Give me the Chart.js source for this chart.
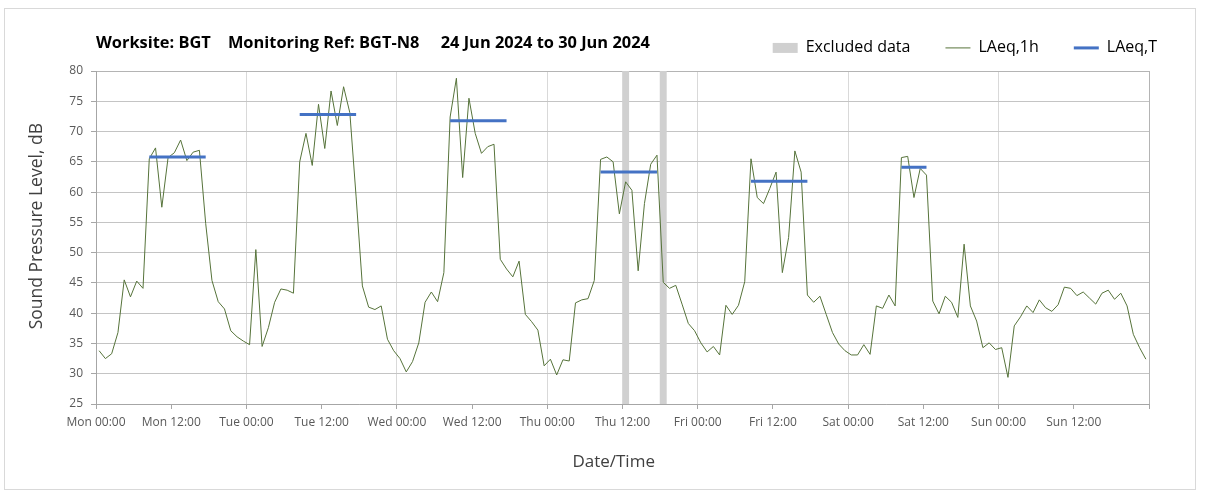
<!DOCTYPE html>
<html>
<head>
<meta charset="utf-8">
<script src="https://cdn.jsdelivr.net/npm/chart.js@4.4.1/dist/chart.umd.min.js"></script>
<style>
  html, body { margin: 0; padding: 0; background: #ffffff; }
  #wrap { position: relative; width: 1208px; height: 496px; }
  #frame { position: absolute; left: 4px; top: 8px; width: 1190px; height: 480px; border: 1px solid #d9d9d9; pointer-events: none; }
  canvas { position: absolute; left: 0; top: 0; }
</style>
</head>
<body>
<div id="wrap">
  <canvas id="c" width="1208" height="496"></canvas>
  <div id="frame"></div>
</div>
<script>
// ---- Data (hourly LAeq,1h, Mon 00:00 -> Sun 23:00) ----
const chartTitle = 'Worksite: BGT    Monitoring Ref: BGT-N8     24 Jun 2024 to 30 Jun 2024';
const xTickLabels = ['Mon 00:00','Mon 12:00','Tue 00:00','Tue 12:00','Wed 00:00','Wed 12:00',
  'Thu 00:00','Thu 12:00','Fri 00:00','Fri 12:00','Sat 00:00','Sat 12:00','Sun 00:00','Sun 12:00',''];

const laeq1hMon = [33.8,32.5,33.3,36.8,45.5,42.7,45.3,44.1,65.5,67.3,57.5,65.7,66.5,68.6,65.2,66.6,66.9,54.8,45.4,41.9,40.7,37.1,36.1,35.4];
const laeq1hTue = [34.8,50.5,34.5,37.6,41.8,44.0,43.8,43.3,65.0,69.7,64.4,74.5,67.2,76.7,71.0,77.4,73.1,59.2,44.5,41.0,40.6,41.2,35.7,33.8];
const laeq1hWed = [32.5,30.3,32.0,35.1,41.8,43.5,41.9,46.7,72.4,78.8,62.4,75.5,69.7,66.4,67.5,67.9,48.9,47.3,46.0,48.6,39.8,38.6,37.2,31.3];
const laeq1hThu = [32.4,29.8,32.3,32.1,41.7,42.2,42.4,45.4,65.4,65.8,65.0,56.4,61.7,60.3,47.0,58.1,64.6,66.1,45.1,44.1,44.6,41.5,38.3,37.1];
const laeq1hFri = [35.1,33.6,34.5,33.1,41.3,39.8,41.3,45.2,65.5,59.1,58.1,60.6,63.3,46.7,52.5,66.8,63.3,43.0,41.8,42.8,39.8,36.8,34.9,33.8];
const laeq1hSat = [33.1,33.1,34.8,33.2,41.2,40.8,43.0,41.2,65.7,65.9,59.1,63.9,62.8,42.0,39.9,42.8,41.8,39.3,51.4,41.2,38.7,34.3,35.1,34.0];
const laeq1hSun = [34.3,29.4,37.9,39.4,41.2,40.1,42.2,40.9,40.3,41.4,44.3,44.1,42.9,43.5,42.5,41.5,43.3,43.8,42.3,43.3,41.2,36.5,34.3,32.4];

// LAeq,T daytime periods (start hour, end hour, level)
const laeqTStart = [8, 32, 56, 80, 104, 128];
const laeqTEnd   = [17, 41, 65, 89, 113, 132];
const laeqTValue = [65.8, 72.8, 71.8, 63.3, 61.8, 64.1];

// Excluded data hours
const excludedHours = [84, 90];

// ---- Build datasets ----
const laeq1h = [].concat(laeq1hMon, laeq1hTue, laeq1hWed, laeq1hThu, laeq1hFri, laeq1hSat, laeq1hSun);
const hours = laeq1h.map((_, i) => i);
const lineData = hours.map(h => ({ x: h + 0.5, y: laeq1h[h] }));
const laeqTData = hours.map(h => {
  let v = null;
  laeqTStart.forEach((s, k) => { if (h >= s && h <= laeqTEnd[k]) v = laeqTValue[k]; });
  return { x: h + 0.5, y: v };
});
const excludedData = hours.map(h => ({ x: h + 0.5, y: excludedHours.includes(h) ? 80 : null }));

const FONT = "'Open Sans', 'DejaVu Sans', sans-serif";

new Chart(document.getElementById('c'), {
  type: 'line',
  data: {
    datasets: [
      { type: 'line', label: 'LAeq,T', data: laeqTData, borderColor: '#4472c4', borderWidth: 3,
        pointRadius: 0, spanGaps: false, order: 1 },
      { type: 'line', label: 'LAeq,1h', data: lineData, borderColor: '#56733a', borderWidth: 1,
        pointRadius: 0, tension: 0, order: 2 },
      { type: 'bar', label: 'Excluded data', data: excludedData, backgroundColor: '#d0d0d0',
        borderWidth: 0, barPercentage: 1, categoryPercentage: 1, order: 3 }
    ]
  },
  options: {
    responsive: false,
    animation: false,
    events: [],
    layout: { padding: { left: 0, right: 16, top: 0, bottom: 0 } },
    plugins: {
      tooltip: { enabled: false },
      title: {
        display: true, text: chartTitle, align: 'start', color: '#000000', fullSize: false, weight: 2000,
        font: { family: FONT, size: 16.4, weight: 'bold', lineHeight: 1.2 },
        padding: { top: -32.8, bottom: 18.2 }
      },
      legend: {
        display: true, position: 'top', align: 'end', weight: 3000,
        labels: {
          usePointStyle: true, pointStyleWidth: 25, boxHeight: 10, padding: 35,
          color: '#404040', font: { family: FONT, size: 16 },
          generateLabels: () => [
            { text: 'Excluded data', pointStyle: 'rect', fillStyle: '#d0d0d0', strokeStyle: '#d0d0d0', lineWidth: 0, hidden: false, datasetIndex: 2 },
            { text: 'LAeq,1h', pointStyle: 'line', fillStyle: '#56733a', strokeStyle: '#56733a', lineWidth: 1, hidden: false, datasetIndex: 1 },
            { text: 'LAeq,T', pointStyle: 'line', fillStyle: '#4472c4', strokeStyle: '#4472c4', lineWidth: 3, hidden: false, datasetIndex: 0 }
          ]
        }
      }
    },
    scales: {
      x: {
        type: 'linear', min: 0, max: 168, offset: false, bounds: 'ticks',
        afterFit: s => { s.height = 92; s.paddingRight = 59; },
        ticks: { stepSize: 12, autoSkip: false, maxRotation: 0, minRotation: 0, padding: 6,
          color: '#595959', font: { family: FONT, size: 12 },
          callback: v => xTickLabels[Math.round(v / 12)] },
        grid: { offset: false, drawTicks: true, tickLength: 5, tickColor: '#a6a6a6', lineWidth: 1,
          color: c => (c.tick && c.tick.value === 168) ? '#b4b4b4' : ((c.tick && c.tick.value % 24 === 0) ? '#d9d9d9' : 'rgba(0,0,0,0)') },
        border: { display: true, color: '#a6a6a6', width: 1 },
        title: { display: true, text: 'Date/Time    ', color: '#404040',
          font: { family: FONT, size: 17, lineHeight: 1.2 }, padding: { top: 4, bottom: 23.8 } }
      },
      y: {
        type: 'linear', min: 25, max: 80, beginAtZero: false,
        afterFit: s => { s.width = 96; s.paddingTop = 71; },
        ticks: { stepSize: 5, padding: 8, color: '#595959', font: { family: FONT, size: 12 } },
        grid: { drawTicks: true, tickLength: 5, tickColor: '#a6a6a6', lineWidth: 1,
          color: c => (c.tick && c.tick.value === 80) ? '#b4b4b4' : '#c4c4c4' },
        border: { display: true, color: '#a6a6a6', width: 1 },
        title: { display: true, text: '     Sound Pressure Level, dB', color: '#404040',
          font: { family: FONT, size: 17.5, lineHeight: 1.2 }, padding: { top: 26.5, bottom: 4 } }
      }
    }
  }
});
</script>
</body>
</html>
